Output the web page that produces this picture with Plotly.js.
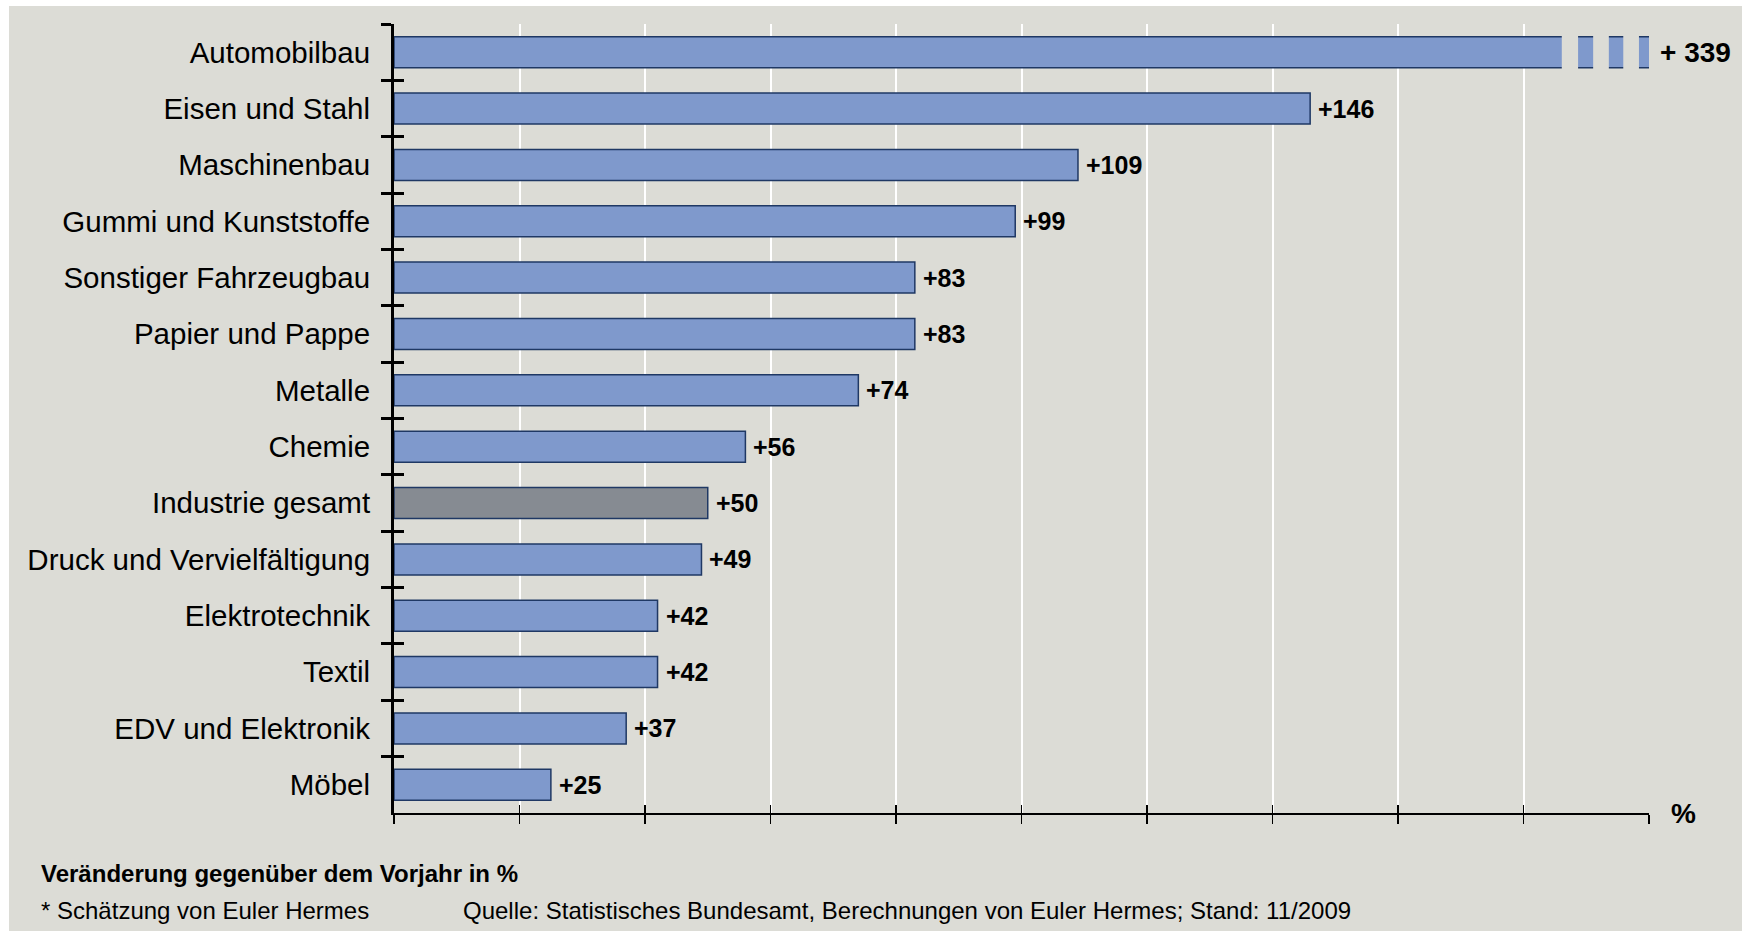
<!DOCTYPE html>
<html>
<head>
<meta charset="utf-8">
<script src="https://cdn.plot.ly/plotly-3.0.1.min.js"></script>
<style>
  html, body { margin: 0; padding: 0; background: #ffffff; width: 1742px; height: 931px; overflow: hidden; }
  #chart { position: absolute; left: 9px; top: 6px; width: 1733px; height: 925px; }
</style>
</head>
<body>
<div id="chart"></div>
<script>
// ---- data ----
const categories = [
  'Automobilbau', 'Eisen und Stahl', 'Maschinenbau', 'Gummi und Kunststoffe',
  'Sonstiger Fahrzeugbau', 'Papier und Pappe', 'Metalle', 'Chemie',
  'Industrie gesamt', 'Druck und Vervielfältigung', 'Elektrotechnik', 'Textil',
  'EDV und Elektronik', 'Möbel'
];
const values = [339, 146, 109, 99, 83, 83, 74, 56, 50, 49, 42, 42, 37, 25];
const valueLabels = ['+ 339', '+146', '+109', '+99', '+83', '+83', '+74', '+56',
                     '+50', '+49', '+42', '+42', '+37', '+25'];
const xTickVals = [0, 20, 40, 60, 80, 100, 120, 140, 160, 180, 200];
const xMax = 200;
const highlightCategory = 'Industrie gesamt';
// axis-break gaps drawn on the Automobilbau bar (in axis units)
const breakGaps = [[186.1, 188.7], [191.1, 193.6], [195.9, 198.4]];

// ---- styles ----
const BG = '#DCDCD6';
const BAR = '#7F99CC';
const BAR_HI = '#868B92';
const EDGE = '#1F3864';
const FONT = 'Liberation Sans, Arial, Helvetica, sans-serif';

const colors = categories.map(c => c === highlightCategory ? BAR_HI : BAR);
const yRange = [categories.length - 0.5, -0.5];

const traces = [
  {
    type: 'bar', orientation: 'h',
    x: values, y: categories,
    width: 0.55,
    marker: { color: colors, line: { color: EDGE, width: 1.5 } },
    hoverinfo: 'none', showlegend: false
  },
  {
    type: 'scatter', mode: 'markers',
    x: values, y: categories, xaxis: 'x2', yaxis: 'y2',
    marker: { opacity: 0, size: 1 },
    hoverinfo: 'skip', showlegend: false
  }
];

const annotations = categories.map((c, i) => ({
  x: Math.min(values[i], xMax), y: c, xref: 'x', yref: 'y',
  text: '<b>' + valueLabels[i] + '</b>',
  showarrow: false, xanchor: 'left', yanchor: 'middle',
  xshift: values[i] > xMax ? 9 : 6,
  font: { family: FONT, size: values[i] > xMax ? 28 : 25, color: '#000' }
}));

annotations.push(
  { xref: 'x', yref: 'paper', x: xMax, y: 0, xanchor: 'left', yanchor: 'middle',
    xshift: 20, yshift: 0, showarrow: false,
    text: '<b>%</b>', font: { family: FONT, size: 28, color: '#000' } },
  { xref: 'paper', yref: 'paper', x: 0, y: 0, xanchor: 'left', yanchor: 'middle',
    xshift: -355, yshift: -60, showarrow: false,
    text: '<b>Veränderung gegenüber dem Vorjahr in %</b>',
    font: { family: FONT, size: 24, color: '#000' } },
  { xref: 'paper', yref: 'paper', x: 0, y: 0, xanchor: 'left', yanchor: 'middle',
    xshift: -355, yshift: -97, showarrow: false,
    text: '* Schätzung von Euler Hermes',
    font: { family: FONT, size: 24, color: '#000' } },
  { xref: 'paper', yref: 'paper', x: 0, y: 0, xanchor: 'left', yanchor: 'middle',
    xshift: 67, yshift: -97, showarrow: false,
    text: 'Quelle: Statistisches Bundesamt, Berechnungen von Euler Hermes; Stand: 11/2009',
    font: { family: FONT, size: 24, color: '#000' } }
);

const shapes = breakGaps.map(g => ({
  type: 'rect', xref: 'x', yref: 'y', layer: 'above',
  x0: g[0], x1: g[1], y0: -0.33, y1: 0.33,
  fillcolor: BG, line: { width: 0 }
}));

const layout = {
  width: 1733, height: 925,
  margin: { l: 385, r: 93, t: 18, b: 118, pad: 0 },
  paper_bgcolor: BG, plot_bgcolor: BG,
  showlegend: false,
  bargap: 0.45,
  xaxis: {
    range: [0, xMax], tickmode: 'array', tickvals: xTickVals,
    showticklabels: false, ticks: 'outside', ticklen: 9, tickwidth: 1.5, tickcolor: '#000',
    showline: true, linecolor: '#000', linewidth: 2,
    showgrid: true, gridcolor: '#ffffff', gridwidth: 2,
    zeroline: false, fixedrange: true
  },
  xaxis2: {
    overlaying: 'x', anchor: 'y2', side: 'bottom',
    range: [0, xMax], tickmode: 'array', tickvals: xTickVals,
    showticklabels: false, ticks: 'inside', ticklen: 8, tickwidth: 1.5, tickcolor: '#000',
    showline: false, showgrid: false, zeroline: false, fixedrange: true
  },
  yaxis: {
    type: 'category', categoryorder: 'array', categoryarray: categories,
    range: yRange, tickson: 'boundaries',
    ticks: 'outside', ticklen: 10, tickwidth: 3, tickcolor: '#000',
    showline: true, linecolor: '#000', linewidth: 3,
    showgrid: false, zeroline: false,
    ticklabelstandoff: 15,
    tickfont: { family: FONT, size: 29.5, color: '#000' },
    fixedrange: true
  },
  yaxis2: {
    type: 'category', categoryorder: 'array', categoryarray: categories,
    overlaying: 'y', anchor: 'x', side: 'left',
    range: yRange, tickson: 'boundaries',
    ticks: 'inside', ticklen: 10, tickwidth: 3, tickcolor: '#000',
    showticklabels: false, showline: false, showgrid: false, zeroline: false,
    fixedrange: true
  },
  annotations: annotations,
  shapes: shapes
};

Plotly.newPlot('chart', traces, layout, { displayModeBar: false, staticPlot: true });
</script>
</body>
</html>
